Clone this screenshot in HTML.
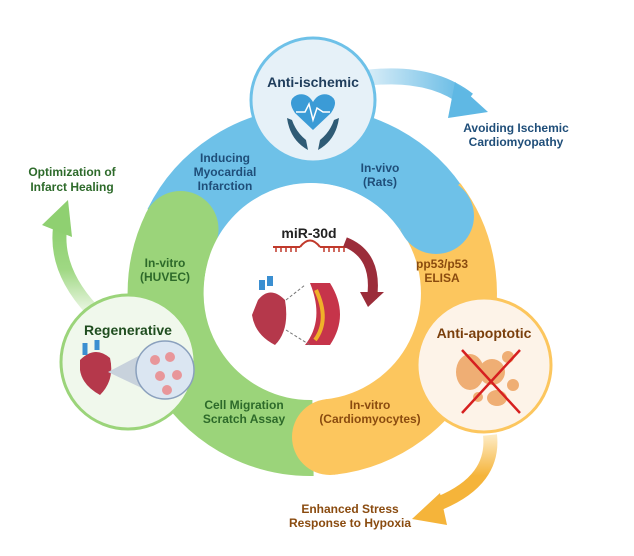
<!DOCTYPE html>
<html><head><meta charset="utf-8"><style>
body{margin:0;background:#fff;}
svg{display:block;font-family:"Liberation Sans",sans-serif;font-weight:bold;}
</style></head><body>
<svg width="634" height="556" viewBox="0 0 634 556" xmlns="http://www.w3.org/2000/svg">
<defs>
<linearGradient id="gg" x1="0" y1="1" x2="0" y2="0"><stop offset="0" stop-color="#e8f5e0"/><stop offset="0.5" stop-color="#9fd883"/><stop offset="1" stop-color="#8fd071"/></linearGradient>
<linearGradient id="bg" x1="0" y1="0" x2="1" y2="0"><stop offset="0" stop-color="#dbeef8"/><stop offset="1" stop-color="#5fb8e4"/></linearGradient>
<linearGradient id="og" x1="0" y1="0" x2="0" y2="1"><stop offset="0" stop-color="#fdebc4"/><stop offset="0.6" stop-color="#f5b43a"/><stop offset="1" stop-color="#f5b43a"/></linearGradient>
</defs>
<!-- outer arrows -->
<path d="M365,78 Q430,70 468,100" fill="none" stroke="url(#bg)" stroke-width="16"/>
<polygon points="455,82 488,112 448,118" fill="#5fb8e4"/>
<path d="M92,310 Q55,270 60,228" fill="none" stroke="url(#gg)" stroke-width="14"/>
<polygon points="42,225 68,200 72,237" fill="#8fd071"/>
<path d="M490,435 Q495,480 440,503" fill="none" stroke="url(#og)" stroke-width="14"/>
<polygon points="440,493 412,519 447,525" fill="#f5b43a"/>
<!-- ring -->
<g fill="none" stroke-width="76">
<path d="M181.5,226 A145,145 0 0 1 436,216" stroke="#6ec1e8"/>
<path d="M430,206 A145,145 0 0 1 330,437" stroke="#fcc65e"/>
<path d="M313,438 A145,145 0 0 1 180.5,229" stroke="#9bd47a"/>
</g>
<circle cx="436" cy="216" r="38" fill="#6ec1e8"/>
<circle cx="330" cy="437" r="38" fill="#fcc65e"/>
<circle cx="180.5" cy="229" r="38" fill="#9bd47a"/>
<circle cx="311" cy="290" r="107" fill="#fff"/>
<!-- ring labels -->
<g font-size="12" text-anchor="middle">
<g fill="#1f4e79"><text x="225" y="162">Inducing</text><text x="225" y="176">Myocardial</text><text x="225" y="190">Infarction</text>
<text x="380" y="172">In-vivo</text><text x="380" y="186">(Rats)</text></g>
<g fill="#2d6a2a"><text x="165" y="267">In-vitro</text><text x="165" y="281">(HUVEC)</text>
<text x="244" y="409">Cell Migration</text><text x="244" y="423">Scratch Assay</text></g>
<g fill="#8a4b0f"><text x="442" y="268">pp53/p53</text><text x="442" y="282">ELISA</text>
<text x="370" y="409">In-vitro</text><text x="370" y="423">(Cardiomyocytes)</text></g>
</g>
<!-- outer labels -->
<g font-size="12" text-anchor="middle">
<text x="516" y="132" fill="#1f4e79">Avoiding Ischemic</text><text x="516" y="146" fill="#1f4e79">Cardiomyopathy</text>
<text x="72" y="176" fill="#2d6a2a">Optimization of</text><text x="72" y="191" fill="#2d6a2a">Infarct Healing</text>
<text x="350" y="513" fill="#8a4b0f">Enhanced Stress</text><text x="350" y="527" fill="#8a4b0f">Response to Hypoxia</text>
</g>
<!-- center content -->
<text x="309" y="238" font-size="14" text-anchor="middle" fill="#222">miR-30d</text>
<path d="M273,247 H300 M320,247 H346 M300,247 Q310,234 320,247" stroke="#c0392b" stroke-width="2" fill="none"/>
<path d="M276,247v5M281,247v5M286,247v5M291,247v5M296,247v5M324,247v5M329,247v5M334,247v5M339,247v5M344,247v5" stroke="#c0392b" stroke-width="1.5"/>
<path d="M345,242 Q378,255 372,298" fill="none" stroke="#9b2d3a" stroke-width="10"/>
<polygon points="360,292 384,292 368,307" fill="#9b2d3a"/>
<path d="M258,300 Q270,285 285,300 Q290,330 275,345 Q255,335 252,315 Z" fill="#b5384b"/>
<path d="M262,290 v-10 M270,286 v-10" stroke="#3b8fd1" stroke-width="6"/>
<path d="M310,283 Q325,320 305,345 L330,345 Q350,315 330,283 Z" fill="#c6344a"/>
<path d="M316,290 Q330,320 315,340" stroke="#f0b129" stroke-width="4" fill="none"/>
<path d="M286,300 L305,285 M286,330 L310,345" stroke="#777" stroke-dasharray="3,2"/>
<!-- node circles -->
<circle cx="313" cy="100" r="62" fill="#e6f1f8" stroke="#6ec1e8" stroke-width="3"/>
<text x="313" y="87" font-size="14" text-anchor="middle" fill="#1f3d5c">Anti-ischemic</text>
<path d="M313,130 L295,113 Q286,100 297,95 Q307,92 313,102 Q319,92 329,95 Q340,100 331,113 Z" fill="#3b9bd6"/>
<polyline points="296,112 305,112 309,104 313,120 317,108 323,112 330,112" fill="none" stroke="#fff" stroke-width="1.5"/>
<path d="M287,118 Q290,140 308,150 L306,140 Q296,132 292,120 Z M339,118 Q336,140 318,150 L320,140 Q330,132 334,120 Z" fill="#2f5b75"/>
<circle cx="128" cy="362" r="67" fill="#f0f8ec" stroke="#9bd47a" stroke-width="3"/>
<text x="128" y="335" font-size="14" text-anchor="middle" fill="#1f4d1f">Regenerative</text>
<path d="M80,360 Q95,345 110,358 Q115,380 100,395 Q82,385 80,370 Z" fill="#b5384b"/>
<path d="M85,355 v-12 M97,350 v-10" stroke="#3b8fd1" stroke-width="5"/>
<polygon points="108,372 150,350 150,392" fill="#c8d2dc"/>
<circle cx="165" cy="370" r="29" fill="#dbe6f2" stroke="#8aa0bd" stroke-width="1.5"/>
<g fill="#e8969a"><circle cx="155" cy="360" r="5"/><circle cx="170" cy="357" r="5"/><circle cx="160" cy="376" r="5"/><circle cx="177" cy="375" r="5"/><circle cx="167" cy="390" r="5"/></g>
<circle cx="484" cy="365" r="67" fill="#fdf3e8" stroke="#fcc65e" stroke-width="3"/>
<text x="484" y="338" font-size="14" text-anchor="middle" fill="#7a3f0c">Anti-apoptotic</text>
<g fill="#efae74"><ellipse cx="470" cy="372" rx="14" ry="18"/><circle cx="492" cy="372" r="13"/><circle cx="508" cy="357" r="6"/><ellipse cx="497" cy="398" rx="10" ry="8"/><circle cx="513" cy="385" r="6"/><circle cx="478" cy="397" r="5"/></g>
<path d="M462,350 L520,413 M520,350 L462,413" stroke="#d62020" stroke-width="2.5"/>
</svg>
</body></html>
